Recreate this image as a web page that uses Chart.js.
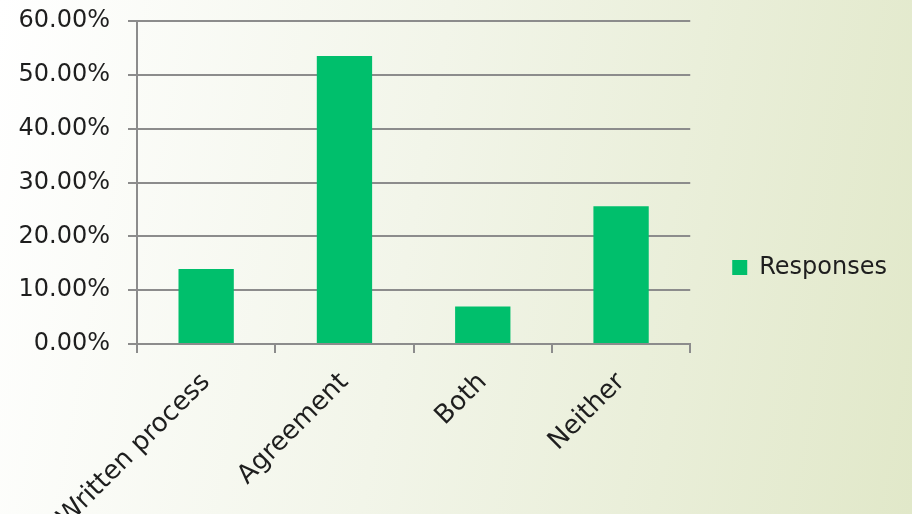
<!DOCTYPE html>
<html>
<head>
<meta charset="utf-8">
<title>Responses</title>
<script src="https://cdn.jsdelivr.net/npm/chart.js@4.4.1/dist/chart.umd.min.js"></script>
<style>
    html, body {
        margin: 0;
        padding: 0;
        width: 912px;
        height: 514px;
        overflow: hidden;
    }

    body {
        background: linear-gradient(100deg, #ffffff 0%, #f2f5e9 45%, #e1e8c9 100%);
    }

    #chartBox {
        position: relative;
        width: 912px;
        height: 514px;
    }
</style>
</head>
<body>
<div id="chartBox">
    <canvas id="responsesChart"></canvas>
</div>

<script>
const categories = ["Written process", "Agreement", "Both", "Neither"];
const responseShares = [13.95, 53.49, 6.98, 25.58];
const yTicks = [0, 10, 20, 30, 40, 50, 60];

const axisGrey = "#8c8c8c";
const labelColour = "#1e1e1e";
const barGreen = "#00bf6c";

document.addEventListener("DOMContentLoaded", function () {
    initializeResponsesChart();
});


function initializeResponsesChart() {
    const canvas = document.getElementById("responsesChart");

    if (!canvas || typeof Chart === "undefined") {
        return;
    }

    Chart.defaults.font.family = "'DejaVu Sans', sans-serif";
    Chart.defaults.font.size = 24;
    Chart.defaults.color = labelColour;

    new Chart(canvas, {
        type: "bar",

        data: {
            labels: categories,

            datasets: [
                {
                    label: "Responses",
                    data: responseShares,
                    backgroundColor: barGreen,
                    borderWidth: 0,
                    barPercentage: 0.4,
                    categoryPercentage: 1
                }
            ]
        },

        options: {
            responsive: true,
            maintainAspectRatio: false,
            animation: false,

            layout: {
                padding: {
                    top: 21,
                    right: 15,
                    bottom: 0,
                    left: 0
                }
            },

            scales: {
                x: {
                    offset: true,

                    grid: {
                        offset: true,
                        drawOnChartArea: false,
                        drawTicks: true,
                        tickLength: 9,
                        color: axisGrey,
                        lineWidth: 2
                    },

                    border: {
                        color: axisGrey,
                        width: 2
                    },

                    ticks: {
                        minRotation: 45,
                        maxRotation: 45,
                        padding: 14,
                        color: labelColour,
                        font: {
                            size: 26
                        }
                    },

                    afterFit: function (scale) {
                        scale.height = 170;
                        scale.paddingLeft = 0;
                        scale.paddingRight = 0;
                    }
                },

                y: {
                    min: yTicks[0],
                    max: yTicks[yTicks.length - 1],

                    afterBuildTicks: function (scale) {
                        scale.ticks = yTicks.map(function (value) {
                            return { value: value };
                        });
                    },

                    grid: {
                        color: axisGrey,
                        lineWidth: 2,
                        tickLength: 9
                    },

                    border: {
                        color: axisGrey,
                        width: 2
                    },

                    ticks: {
                        padding: 18,
                        color: labelColour,
                        font: {
                            size: 24
                        },

                        callback: function (value) {
                            return Number(value).toFixed(2) + "%";
                        }
                    },

                    afterFit: function (scale) {
                        scale.width = 137;
                        scale.paddingTop = 0;
                        scale.paddingBottom = 0;
                    }
                }
            },

            plugins: {
                legend: {
                    position: "right",

                    labels: {
                        boxWidth: 15,
                        boxHeight: 15,
                        padding: 42,
                        color: labelColour,
                        font: {
                            size: 24
                        }
                    }
                },

                tooltip: {
                    enabled: false
                }
            }
        }
    });
}
</script>
</body>
</html>
